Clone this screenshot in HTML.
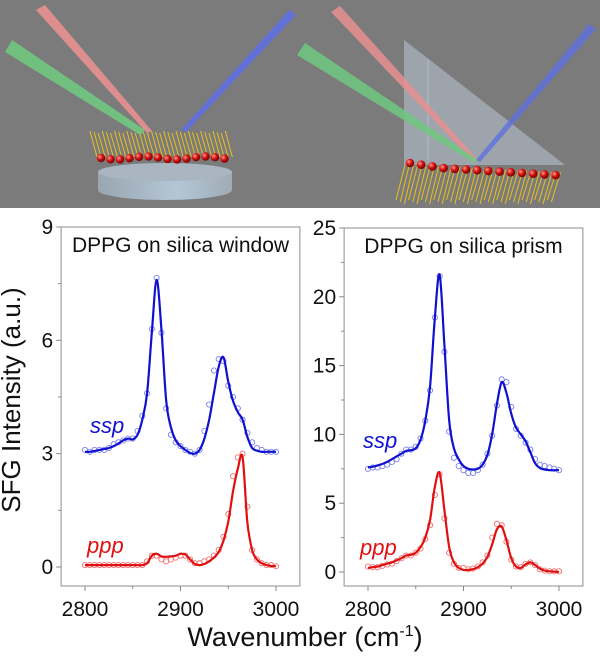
<!DOCTYPE html>
<html><head><meta charset="utf-8"><style>
html,body{margin:0;padding:0;background:#fff;}
svg{display:block;font-family:"Liberation Sans",Arial,sans-serif;}
</style></head><body>
<svg id="fig" width="600" height="657" viewBox="0 0 600 657" xmlns="http://www.w3.org/2000/svg">
<defs>
<linearGradient id="disk" x1="0" x2="1" y1="0" y2="0"><stop offset="0" stop-color="#9aa6b0"/><stop offset="0.6" stop-color="#b4c6d6"/><stop offset="1" stop-color="#a0abb5"/></linearGradient>
<radialGradient id="ball" cx="0.35" cy="0.35" r="0.7"><stop offset="0" stop-color="#ff9a8a"/><stop offset="0.5" stop-color="#d01010"/><stop offset="1" stop-color="#700000"/></radialGradient>
</defs>
<g>
<rect x="0" y="0" width="600" height="208" fill="#7b7b7b"/>
<g>
<path d="M98,172 L98,190 A67,10 0 0 0 232,190 L232,172 Z" fill="url(#disk)"/>
<ellipse cx="165" cy="172" rx="67" ry="9" fill="#a9b6c2"/>
<g id="lsticks" stroke="#e8c020" stroke-width="1"></g>
<g id="lballs"></g>
<polygon points="36,10 45,5 152,131 147,133" fill="#e89090" opacity="0.9"/>
<polygon points="5,52 12,40 145,130 140,135" fill="#70c880" opacity="0.9"/>
<polygon points="289,10 296,15 186,132 181,130" fill="#6070e0" opacity="0.9"/>
</g>
<g>
<polygon points="404,40 404,165 565,165" fill="#c8d8e8" opacity="0.45"/>
<polygon points="404,40 430,60 565,165" fill="#d8e4f0" opacity="0.25"/>
<line x1="428" y1="60" x2="428" y2="160" stroke="#c0d0e0" stroke-width="1" opacity="0.6"/>
<g id="rsticks" stroke="#e8c020" stroke-width="1"></g>
<g id="rballs"></g>
<polygon points="331,12 340,6 478,160 474,162" fill="#e89090" opacity="0.85"/>
<polygon points="297,55 305,43 478,160 474,163" fill="#70c880" opacity="0.85"/>
<polygon points="589,24 596,29 480,162 476,160" fill="#6070e0" opacity="0.8"/>
</g>
</g>
<g id="charts"></g>
<text x="20" y="400" font-size="26" text-anchor="middle" transform="rotate(-90 20 400)" fill="#111">SFG Intensity (a.u.)</text>
<text x="305" y="646" font-size="27" text-anchor="middle" fill="#111">Wavenumber (cm<tspan dy="-10" font-size="16">-1</tspan><tspan dy="10">)</tspan></text>
</svg>
<script>
const NS='http://www.w3.org/2000/svg';
const wavenumbers=[2800,2805,2810,2815,2820,2825,2830,2835,2840,2845,2850,2855,2860,2865,2870,2875,2880,2885,2890,2895,2900,2905,2910,2915,2920,2925,2930,2935,2940,2945,2950,2955,2960,2965,2970,2975,2980,2985,2990,2995,3000];
const windowSspFit=[3.05,3.05,3.07,3.1,3.12,3.15,3.2,3.27,3.35,3.4,3.38,3.5,3.9,4.6,6.2,7.6,6.3,4.4,3.7,3.35,3.2,3.1,3.02,3.0,3.1,3.4,3.9,4.6,5.3,5.55,4.9,4.4,4.1,3.9,3.45,3.15,3.08,3.05,3.05,3.05,3.05];
const windowSspData=[3.1,3.05,3.1,3.1,3.1,3.15,3.25,3.3,3.35,3.4,3.4,3.6,4.0,4.6,6.3,7.65,6.2,4.2,3.5,3.3,3.2,3.1,3.05,3.0,3.1,3.6,4.3,5.2,5.5,5.45,4.8,4.5,4.2,3.9,3.55,3.3,3.15,3.1,3.05,3.05,3.05];
const windowPppFit=[0.05,0.05,0.05,0.05,0.05,0.05,0.05,0.05,0.05,0.05,0.05,0.05,0.05,0.1,0.3,0.35,0.28,0.27,0.28,0.3,0.35,0.33,0.2,0.08,0.05,0.08,0.15,0.25,0.4,0.7,1.2,2.0,2.6,2.9,1.2,0.45,0.2,0.1,0.05,0.03,0.02];
const windowPppData=[0.05,0.05,0.05,0.05,0.05,0.05,0.05,0.05,0.05,0.05,0.05,0.05,0.05,0.15,0.3,0.3,0.2,0.15,0.2,0.25,0.3,0.3,0.2,0.1,0.1,0.15,0.2,0.3,0.45,0.8,1.4,2.4,2.9,3.0,1.6,0.45,0.2,0.1,0.05,0.05,0.02];
const prismSspFit=[7.6,7.65,7.75,7.85,8.0,8.2,8.4,8.6,8.8,8.85,9.0,9.6,11.0,13.5,18.5,21.6,16.5,11.0,9.0,8.2,7.7,7.5,7.45,7.5,7.8,8.5,10.0,12.2,13.8,13.0,11.5,10.5,10.0,9.5,8.7,7.9,7.55,7.45,7.4,7.4,7.4];
const prismSspData=[7.5,7.6,7.6,7.7,7.8,8.0,8.2,8.6,8.9,8.9,9.1,9.7,11.0,13.2,18.5,21.5,16.0,10.2,8.3,7.7,7.4,7.2,7.2,7.4,7.8,8.6,9.9,12.1,14.0,13.8,12.0,10.4,9.9,9.4,8.9,8.2,7.8,7.7,7.6,7.5,7.4];
const prismPppFit=[0.3,0.35,0.4,0.5,0.6,0.7,0.85,1.0,1.2,1.25,1.4,1.8,2.5,3.8,6.2,7.2,4.5,1.8,0.7,0.3,0.15,0.15,0.2,0.35,0.6,1.1,2.0,3.1,3.3,2.3,1.0,0.4,0.3,0.55,0.7,0.5,0.25,0.1,0.05,0.03,0.0];
const prismPppData=[0.4,0.35,0.35,0.45,0.55,0.6,0.8,1.0,1.2,1.2,1.4,1.7,2.4,3.4,5.6,7.1,3.9,1.4,0.6,0.3,0.3,0.2,0.25,0.4,0.7,1.2,2.5,3.5,3.4,2.2,0.9,0.4,0.35,0.6,0.7,0.5,0.2,0.1,0.05,0.05,0.05];
const xTickValues=[2800,2900,3000];
const windowYTicks=[0,3,6,9];
const prismYTicks=[0,5,10,15,20,25];

function el(tag,attrs,parent){const e=document.createElementNS(NS,tag);for(const k in attrs)e.setAttribute(k,attrs[k]);parent.appendChild(e);return e;}
function smooth(pts){let d='M'+pts[0][0].toFixed(1)+','+pts[0][1].toFixed(1);for(let i=0;i<pts.length-1;i++){const p0=pts[i-1]||pts[i],p1=pts[i],p2=pts[i+1],p3=pts[i+2]||p2;const c1=[p1[0]+(p2[0]-p0[0])/6,p1[1]+(p2[1]-p0[1])/6],c2=[p2[0]-(p3[0]-p1[0])/6,p2[1]-(p3[1]-p1[1])/6];d+='C'+c1.join(',')+' '+c2.join(',')+' '+p2[0].toFixed(1)+','+p2[1].toFixed(1);}return d;}

function chart(cfg){
  const root=document.getElementById('charts');
  const g=el('g',{},root);
  
  
  const X=v=>cfg.x0+(v-2800)*(cfg.x1-cfg.x0)/200;
  const Y=v=>cfg.yb+(v-cfg.ymin)*(cfg.yt-cfg.yb)/(cfg.ymax-cfg.ymin);
  const fl=cfg.x0-25*(cfg.x1-cfg.x0)/200, fr=cfg.x1+25*(cfg.x1-cfg.x0)/200;
  const frame=el('rect',{x:fl,y:cfg.yt,width:fr-fl,height:cfg.fb-cfg.yt,fill:'none',stroke:'#a0a0a0','stroke-width':1.2},g);
  
  
  cfg.yticks.forEach((t,i)=>{
    el('line',{x1:fl-5,x2:fl,y1:Y(t),y2:Y(t),stroke:'#888'},g);
    if(i<cfg.yticks.length-1){const m=(t+cfg.yticks[i+1])/2;el('line',{x1:fl-3,x2:fl,y1:Y(m),y2:Y(m),stroke:'#888'},g);}
    const tx=el('text',{x:fl-8,y:Y(t)+7,'font-size':21,'text-anchor':'end',fill:'#111'},g);tx.textContent=t;
    
    
  });
  xTickValues.forEach((t,i)=>{
    el('line',{x1:X(t),x2:X(t),y1:cfg.fb,y2:cfg.fb+5,stroke:'#888'},g);
    if(i<xTickValues.length-1){el('line',{x1:X(t+50),x2:X(t+50),y1:cfg.fb,y2:cfg.fb+3,stroke:'#888'},g);}
    const tx=el('text',{x:X(t),y:cfg.fb+30,'font-size':21,'text-anchor':'middle',fill:'#111'},g);tx.textContent=t;
    
    
  });
  const title=el('text',{x:(fl+fr)/2,y:cfg.yt+25,'font-size':21,'text-anchor':'middle',fill:'#111'},g);title.textContent=cfg.title;
  
  
  cfg.series.forEach(s=>{
    s.data.forEach((v,i)=>{
      const c=el('circle',{cx:X(wavenumbers[i]),cy:Y(v),r:2.6,fill:'none',stroke:s.light,'stroke-width':0.9},g);
      
      
    });
    const p=el('path',{d:smooth(s.fit.map((v,i)=>[X(wavenumbers[i]),Y(v)])),fill:'none',stroke:s.color,'stroke-width':2.2},g);
    
    
    const lt=el('text',{x:s.lx,y:s.ly,'font-size':22,'font-style':'italic',fill:s.color},g);lt.textContent=s.label;
    
    
  });
}
chart({name:'window-chart',title:'DPPG on silica window',x0:85,x1:276,yt:227,yb:567,fb:586,ymin:0,ymax:9,yticks:windowYTicks,
  series:[{label:'ssp',fit:windowSspFit,data:windowSspData,color:'#1010d0',light:'#7a80e8',lx:90,ly:433},
          {label:'ppp',fit:windowPppFit,data:windowPppData,color:'#e01010',light:'#f07070',lx:87,ly:553}]});
chart({name:'prism-chart',title:'DPPG on silica prism',x0:368,x1:559,yt:228,yb:572,fb:586,ymin:0,ymax:25,yticks:prismYTicks,
  series:[{label:'ssp',fit:prismSspFit,data:prismSspData,color:'#1010d0',light:'#7a80e8',lx:363,ly:448},
          {label:'ppp',fit:prismPppFit,data:prismPppData,color:'#e01010',light:'#f07070',lx:360,ly:555}]});

const ls=document.getElementById('lsticks'),lb=document.getElementById('lballs');
for(let i=0;i<34;i++){const x=90+i*4.1;el('line',{x1:x,y1:131+(i%3),x2:x+7,y2:157},ls);}
for(let i=0;i<14;i++){const x=101+i*9.5;el('circle',{cx:x,cy:158+Math.sin(i)*1.5,r:4.2,fill:'url(#ball)'},lb);}
const rs=document.getElementById('rsticks'),rb=document.getElementById('rballs');
for(let i=0;i<38;i++){const x=396+i*4.2;el('line',{x1:x+9,y1:165+i*0.2,x2:x,y2:200+(i%3)*2},rs);}
for(let i=0;i<14;i++){const x=410+i*11.2;el('circle',{cx:x,cy:166+i*0.7-(i<3?(3-i):0),r:4.3,fill:'url(#ball)'},rb);}
</script>
</body></html>
